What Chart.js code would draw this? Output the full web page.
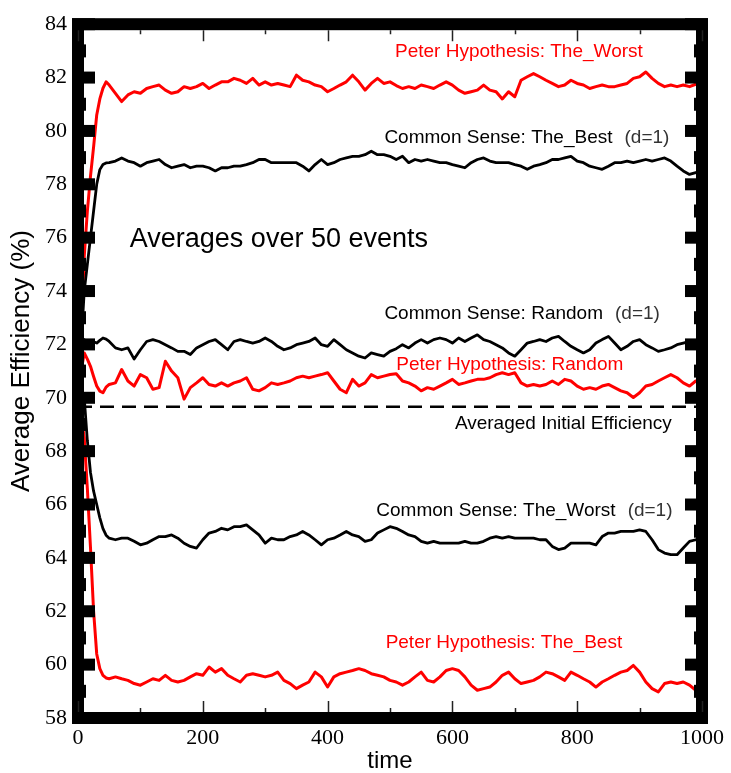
<!DOCTYPE html>
<html>
<head>
<meta charset="utf-8">
<script src="https://cdn.jsdelivr.net/npm/chart.js@4.4.0/dist/chart.umd.min.js"></script>
<style>
  html, body { margin: 0; padding: 0; background: #fff; }
</style>
</head>
<body>
<canvas id="effChart" width="731" height="773"></canvas>
<script>
// sample times (finer steps during the initial transient)
const times = [0, 5, 10, 15, 20, 25, 30, 35, 40, 45, 50,
  60, 70, 80, 90, 100, 110, 120, 130, 140, 150, 160, 170, 180, 190, 200,
  210, 220, 230, 240, 250, 260, 270, 280, 290, 300, 310, 320, 330, 340, 350,
  360, 370, 380, 390, 400, 410, 420, 430, 440, 450, 460, 470, 480, 490, 500,
  510, 520, 530, 540, 550, 560, 570, 580, 590, 600, 610, 620, 630, 640, 650,
  660, 670, 680, 690, 700, 710, 720, 730, 740, 750, 760, 770, 780, 790, 800,
  810, 820, 830, 840, 850, 860, 870, 880, 890, 900, 910, 920, 930, 940, 950,
  960, 970, 980, 990, 1000];

const peterWorst = [69.7, 72.5, 75.3, 77.0, 78.3, 79.4, 80.6, 81.2, 81.6, 81.84, 81.72,
  81.41, 81.10, 81.35, 81.47, 81.41, 81.59, 81.66, 81.72, 81.53, 81.41, 81.47, 81.66, 81.59, 81.66, 81.78,
  81.59, 81.72, 81.84, 81.84, 81.97, 81.90, 81.78, 81.97, 81.72, 81.84, 81.72, 81.78, 81.72, 81.66, 82.09,
  81.90, 81.84, 81.72, 81.66, 81.47, 81.59, 81.72, 81.84, 82.09, 81.84, 81.53, 81.78, 81.97, 81.78, 81.84,
  81.70, 81.59, 81.66, 81.59, 81.72, 81.66, 81.59, 81.72, 81.84, 81.72, 81.53, 81.41, 81.47, 81.53, 81.72,
  81.53, 81.47, 81.20, 81.47, 81.28, 81.90, 82.03, 82.15, 82.03, 81.90, 81.78, 81.66, 81.72, 81.90, 81.78,
  81.72, 81.59, 81.66, 81.72, 81.66, 81.66, 81.72, 81.78, 81.97, 82.03, 82.21, 81.97, 81.78, 81.66, 81.72,
  81.66, 81.72, 81.66, 81.75, 81.80];

const csBest = [69.7, 72.0, 74.0, 75.0, 76.0, 77.0, 78.0, 78.55, 78.74, 78.80, 78.81,
  78.87, 78.99, 78.87, 78.81, 78.68, 78.81, 78.87, 78.93, 78.74, 78.62, 78.68, 78.74, 78.62, 78.68, 78.68,
  78.62, 78.50, 78.62, 78.62, 78.68, 78.68, 78.74, 78.81, 78.93, 78.93, 78.81, 78.81, 78.81, 78.81, 78.81,
  78.68, 78.50, 78.74, 78.93, 78.74, 78.81, 78.93, 78.99, 79.05, 79.05, 79.11, 79.24, 79.11, 79.11, 79.05,
  78.93, 79.05, 78.81, 78.93, 78.87, 78.93, 78.87, 78.81, 78.81, 78.74, 78.68, 78.62, 78.81, 78.93, 78.99,
  78.87, 78.81, 78.81, 78.81, 78.74, 78.68, 78.56, 78.68, 78.74, 78.81, 78.93, 78.93, 78.99, 79.05, 78.87,
  78.81, 78.68, 78.62, 78.56, 78.68, 78.81, 78.81, 78.87, 78.81, 78.87, 78.93, 78.87, 78.93, 78.99, 78.87,
  78.68, 78.50, 78.37, 78.44, 78.50];

const csRandom = [69.7, 71.6, 72.18, 72.05, 71.99, 72.10, 72.05, 72.15, 72.24, 72.20, 72.11,
  71.87, 71.80, 71.87, 71.45, 71.80, 72.11, 72.18, 72.11, 71.99, 71.87, 71.74, 71.74, 71.62, 71.87, 71.99,
  72.11, 72.18, 71.99, 71.80, 72.11, 72.18, 72.11, 72.05, 72.11, 72.24, 72.11, 71.93, 71.80, 71.87, 71.99,
  72.05, 72.11, 72.24, 71.99, 71.93, 72.18, 71.99, 71.80, 71.68, 71.56, 71.49, 71.68, 71.62, 71.56, 71.74,
  71.84, 71.99, 71.87, 72.05, 72.18, 72.05, 72.18, 72.24, 72.18, 72.05, 72.24, 72.11, 72.24, 72.36, 72.18,
  72.11, 71.99, 71.87, 71.68, 71.56, 71.80, 72.05, 72.11, 72.18, 72.11, 72.24, 72.30, 72.11, 71.93, 71.80,
  71.68, 71.80, 72.05, 72.18, 72.30, 72.05, 71.80, 71.93, 72.11, 72.18, 71.99, 71.87, 71.74, 71.80, 71.87,
  71.99, 72.05, 72.11, 72.10, 72.10];

const peterRandom = [69.7, 71.0, 71.68, 71.45, 71.18, 70.80, 70.44, 70.25, 70.19, 70.40, 70.50,
  70.56, 71.06, 70.63, 70.44, 70.87, 70.75, 70.32, 70.38, 71.37, 71.00, 70.75, 69.95, 70.38, 70.56, 70.75,
  70.50, 70.44, 70.56, 70.44, 70.56, 70.63, 70.75, 70.32, 70.26, 70.38, 70.56, 70.50, 70.56, 70.63, 70.75,
  70.81, 70.75, 70.81, 70.87, 70.94, 70.63, 70.32, 70.19, 70.69, 70.44, 70.56, 70.87, 70.75, 70.81, 70.87,
  70.90, 70.63, 70.56, 70.44, 70.26, 70.38, 70.32, 70.44, 70.56, 70.69, 70.50, 70.56, 70.63, 70.69, 70.69,
  70.75, 70.87, 70.94, 70.87, 70.94, 70.56, 70.44, 70.50, 70.44, 70.50, 70.63, 70.50, 70.69, 70.63, 70.44,
  70.32, 70.38, 70.32, 70.44, 70.50, 70.38, 70.26, 70.19, 70.01, 70.19, 70.44, 70.50, 70.63, 70.75, 70.87,
  70.75, 70.56, 70.44, 70.63, 70.60];

const csWorst = [69.7, 69.9, 70.0, 68.4, 67.2, 66.5, 66.0, 65.5, 65.1, 64.85, 64.74,
  64.68, 64.74, 64.74, 64.62, 64.49, 64.55, 64.68, 64.80, 64.80, 64.86, 64.74, 64.55, 64.43, 64.37, 64.68,
  64.93, 64.99, 65.11, 65.05, 65.17, 65.17, 65.24, 65.05, 64.86, 64.55, 64.74, 64.68, 64.68, 64.80, 64.86,
  64.99, 64.86, 64.68, 64.49, 64.68, 64.74, 64.86, 64.99, 64.86, 64.80, 64.62, 64.68, 64.93, 65.05, 65.17,
  65.11, 64.99, 64.86, 64.80, 64.62, 64.55, 64.62, 64.55, 64.55, 64.55, 64.55, 64.62, 64.55, 64.55, 64.62,
  64.74, 64.80, 64.74, 64.80, 64.74, 64.74, 64.74, 64.74, 64.68, 64.68, 64.43, 64.31, 64.37, 64.55, 64.55,
  64.55, 64.55, 64.49, 64.80, 64.93, 64.93, 64.99, 64.99, 64.99, 65.05, 64.99, 64.68, 64.31, 64.18, 64.12,
  64.12, 64.37, 64.62, 64.68, 64.70];

const peterBest = [69.7, 69.3, 68.5, 66.6, 64.4, 62.0, 60.4, 59.85, 59.6, 59.5, 59.47,
  59.54, 59.47, 59.41, 59.29, 59.23, 59.35, 59.47, 59.41, 59.60, 59.41, 59.35, 59.41, 59.54, 59.66, 59.60,
  59.91, 59.72, 59.85, 59.60, 59.47, 59.35, 59.60, 59.66, 59.60, 59.54, 59.60, 59.72, 59.41, 59.29, 59.10,
  59.23, 59.35, 59.72, 59.54, 59.16, 59.54, 59.66, 59.72, 59.78, 59.85, 59.78, 59.66, 59.60, 59.54, 59.41,
  59.35, 59.23, 59.35, 59.54, 59.72, 59.41, 59.35, 59.54, 59.78, 59.85, 59.78, 59.54, 59.23, 59.04, 59.10,
  59.16, 59.35, 59.60, 59.72, 59.47, 59.29, 59.35, 59.41, 59.54, 59.72, 59.66, 59.54, 59.41, 59.72, 59.60,
  59.47, 59.35, 59.16, 59.35, 59.47, 59.60, 59.72, 59.78, 59.97, 59.72, 59.35, 59.10, 58.98, 59.29, 59.35,
  59.29, 59.35, 59.23, 59.04, 59.10];

// averaged initial efficiency (dashed reference)
const initialTimes = [0, 1000];
const initialLevel = [69.66, 69.66];

const xTickValues = [0, 200, 400, 600, 800, 1000];
const yTickValues = [58, 60, 62, 64, 66, 68, 70, 72, 74, 76, 78, 80, 82, 84];
const xMinorValues = [100, 300, 500, 700, 900];
const yMinorValues = [59, 61, 63, 65, 67, 69, 71, 73, 75, 77, 79, 81, 83];

const RED = '#ff0000';
const BLACK = '#000000';
const SANS = '"Liberation Sans", Arial, sans-serif';
const SERIF = '"Liberation Serif", "Times New Roman", serif';

// text labels placed in data coordinates (left edge, vertical centre)
const notes = [
  { text: 'Peter Hypothesis: The_Worst', t: 508, v: 82.98, color: RED },
  { text: 'Common Sense: The_Best', t: 491, v: 79.75, color: BLACK, tag: '(d=1)' },
  { text: 'Averages over 50 events', t: 83, v: 75.92, color: BLACK, size: 27 },
  { text: 'Common Sense: Random', t: 491, v: 73.13, color: BLACK, tag: '(d=1)' },
  { text: 'Peter Hypothesis: Random', t: 510, v: 71.23, color: RED },
  { text: 'Averaged Initial Efficiency', t: 604, v: 69.04, color: BLACK },
  { text: 'Common Sense: The_Worst', t: 478, v: 65.77, color: BLACK, tag: '(d=1)' },
  { text: 'Peter Hypothesis: The_Best', t: 493, v: 60.83, color: RED }
];

const toPoints = (xs, ys) => ys.map((v, i) => ({ x: xs[i], y: v }));

function lineSet(label, values, color, width) {
  return {
    label: label,
    data: toPoints(times, values),
    borderColor: color,
    borderWidth: width,
    pointRadius: 0,
    tension: 0,
    borderJoinStyle: 'round'
  };
}

const framePlugin = {
  id: 'frame',
  afterDatasetsDraw(chart) {
    const ctx = chart.ctx;
    const a = chart.chartArea;
    const xs = chart.scales.x, ys = chart.scales.y;
    ctx.save();

    // annotations
    ctx.textBaseline = 'middle';
    ctx.textAlign = 'left';
    notes.forEach(n => {
      const px = xs.getPixelForValue(n.t), py = ys.getPixelForValue(n.v);
      ctx.font = (n.size || 19) + 'px ' + SANS;
      ctx.fillStyle = n.color;
      ctx.fillText(n.text, px, py);
      if (n.tag) {
        const w = ctx.measureText(n.text).width;
        ctx.fillStyle = '#333333';
        ctx.fillText(n.tag, px + w + 12, py);
      }
    });

    // y axis title, a little above the middle as in the original
    ctx.save();
    ctx.translate(22, (a.top + a.bottom) / 2 - 10);
    ctx.rotate(-Math.PI / 2);
    ctx.textAlign = 'center';
    ctx.fillStyle = '#000';
    ctx.font = '26px ' + SANS;
    ctx.fillText('Average Efficiency (%)', 0, 0);
    ctx.restore();

    // heavy frame
    const half = 6;
    ctx.strokeStyle = '#000';
    ctx.lineWidth = 12;
    ctx.strokeRect(a.left, a.top, a.right - a.left, a.bottom - a.top);

    // block ticks on the y axes
    ctx.fillStyle = '#000';
    yTickValues.forEach(v => {
      const py = ys.getPixelForValue(v);
      ctx.fillRect(a.left - half, py - 6, 23, 12);
      ctx.fillRect(a.right + half - 23, py - 6, 23, 12);
    });
    yMinorValues.forEach(v => {
      const py = ys.getPixelForValue(v);
      ctx.fillRect(a.left - half, py - 6.5, 14, 13);
      ctx.fillRect(a.right + half - 14, py - 6.5, 14, 13);
    });

    // thin ticks on the x axes
    ctx.strokeStyle = '#222';
    ctx.lineWidth = 1.5;
    const xTick = (v, len) => {
      const px = Math.round(xs.getPixelForValue(v)) + 0.5;
      ctx.beginPath();
      ctx.moveTo(px, a.bottom - half);
      ctx.lineTo(px, a.bottom - half - len);
      ctx.moveTo(px, a.top + half);
      ctx.lineTo(px, a.top + half + len);
      ctx.stroke();
    };
    xTickValues.forEach(v => xTick(v, 11));
    xMinorValues.forEach(v => xTick(v, 4));

    ctx.restore();
  }
};

const ctx = document.getElementById('effChart').getContext('2d');
new Chart(ctx, {
  type: 'line',
  data: {
    datasets: [
      {
        label: 'Averaged Initial Efficiency',
        data: toPoints(initialTimes, initialLevel),
        borderColor: BLACK,
        borderWidth: 2.5,
        borderDash: [14, 8],
        pointRadius: 0
      },
      lineSet('Common Sense: The_Best', csBest, BLACK, 2.8),
      lineSet('Common Sense: Random', csRandom, BLACK, 2.8),
      lineSet('Common Sense: The_Worst', csWorst, BLACK, 2.8),
      lineSet('Peter Hypothesis: The_Worst', peterWorst, RED, 3),
      lineSet('Peter Hypothesis: Random', peterRandom, RED, 3),
      lineSet('Peter Hypothesis: The_Best', peterBest, RED, 3)
    ]
  },
  options: {
    responsive: false,
    animation: false,
    devicePixelRatio: 1,
    layout: { padding: { top: 19, right: 27, bottom: 0, left: 0 } },
    plugins: { legend: { display: false }, tooltip: { enabled: false } },
    scales: {
      x: {
        type: 'linear',
        min: 0,
        max: 1000,
        grid: { display: false, drawTicks: false },
        border: { display: false },
        afterBuildTicks: s => { s.ticks = xTickValues.map(v => ({ value: v })); },
        afterFit: s => { s.height = 55; },
        ticks: {
          autoSkip: false,
          maxRotation: 0,
          padding: 7,
          color: '#000',
          callback: v => String(v),
          font: { family: SERIF, size: 22 }
        },
        title: {
          display: true,
          text: 'time',
          color: '#000',
          padding: 0,
          font: { family: SANS, size: 24, lineHeight: 1 }
        }
      },
      y: {
        min: 58,
        max: 84,
        grid: { display: false, drawTicks: false },
        border: { display: false },
        afterBuildTicks: s => { s.ticks = yTickValues.map(v => ({ value: v })); },
        afterFit: s => { s.width = 78; },
        ticks: {
          padding: 11,
          color: '#000',
          callback: v => String(v),
          font: { family: SERIF, size: 22 }
        },
        title: { display: false }
      }
    }
  },
  plugins: [framePlugin]
});
</script>
</body>
</html>
